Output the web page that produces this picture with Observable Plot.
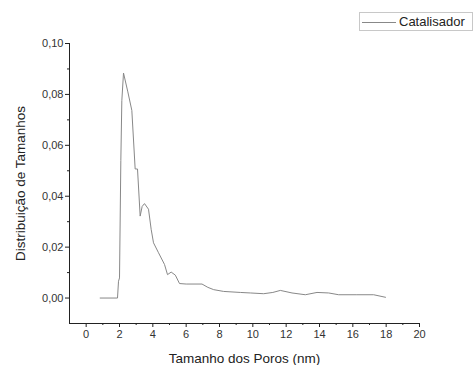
<!DOCTYPE html>
<html>
<head>
<meta charset="utf-8">
<script src="https://cdn.jsdelivr.net/npm/d3@7"></script>
<script src="https://cdn.jsdelivr.net/npm/@observablehq/plot@0.6"></script>
<style>
  body { margin: 0; background: #fff; }
  #wrap { position: relative; width: 475px; height: 365px; font-family: "Liberation Sans", Arial, sans-serif; }
  #legend { position: absolute; left: 359px; top: 12px; width: 114px; height: 19px; border: 1px solid #c8c8c8; box-sizing: border-box; background: #fff; }
  #legend .ln { position: absolute; left: 2px; top: 9px; width: 34px; height: 0; border-top: 1px solid #888; }
  #legend .tx { position: absolute; left: 39px; top: 1px; font-size: 13px; color: #222; line-height: 16px; white-space: nowrap; }
</style>
</head>
<body>
<div id="wrap"><div id="legend"><div class="ln"></div><div class="tx">Catalisador</div></div></div>
<script>
const seriesName = "Catalisador";
const poreSize = [0.84, 1.88, 1.94, 2.0, 2.08, 2.14, 2.24, 2.5, 2.74, 2.94, 3.08, 3.24, 3.36, 3.5, 3.74, 3.9, 4.04, 4.34, 4.7, 4.88, 5.1, 5.35, 5.6, 6.0, 6.95, 7.3, 7.65, 8.25, 9.25, 9.85, 10.65, 11.2, 11.65, 12.35, 13.15, 13.85, 14.55, 15.15, 16.2, 17.25, 17.96];
const distribution = [0.0, 0.0, 0.0066, 0.0079, 0.054, 0.0776, 0.0884, 0.081, 0.0737, 0.0507, 0.0507, 0.0322, 0.036, 0.0371, 0.0349, 0.027, 0.0217, 0.0178, 0.0132, 0.0092, 0.0102, 0.009, 0.0057, 0.0055, 0.0055, 0.0042, 0.0033, 0.0026, 0.0022, 0.002, 0.0017, 0.0022, 0.003, 0.002, 0.0013, 0.0022, 0.002, 0.0013, 0.0013, 0.0013, 0.0003];
const xMajor = [0, 2, 4, 6, 8, 10, 12, 14, 16, 18, 20];
const xMinor = [1, 3, 5, 7, 9, 11, 13, 15, 17, 19];
const yMajor = [0, 0.02, 0.04, 0.06, 0.08, 0.10];
const yMinor = [0.01, 0.03, 0.05, 0.07, 0.09];
const xTitle = "Tamanho dos Poros (nm)";
const yTitle = "Distribuição de Tamanhos";

const data = poreSize.map((x, i) => ({x, y: distribution[i]}));
const fmtY = d => d3.format(".2f")(d).replace(".", ",");

const chart = Plot.plot({
  width: 475,
  height: 365,
  marginLeft: 69,
  marginRight: 56,
  marginTop: 43,
  marginBottom: 42,
  style: {fontFamily: "'Liberation Sans', Arial, sans-serif", fontSize: "11px", color: "#333", background: "#fff"},
  x: {domain: [-1, 20]},
  y: {domain: [-0.01, 0.10]},
  marks: [
    Plot.ruleX([-1], {stroke: "#222", strokeWidth: 1}),
    Plot.ruleY([-0.01], {stroke: "#222", strokeWidth: 1}),
    Plot.axisX(xMajor, {tickSize: 4, tickPadding: 3, stroke: "#222", fill: "#333", label: null, fontSize: 11}),
    Plot.axisX(xMinor, {tickSize: 2, tickFormat: () => "", stroke: "#222", label: null}),
    Plot.axisY(yMajor, {tickSize: 4, tickPadding: 2, tickFormat: fmtY, stroke: "#222", fill: "#333", label: null, fontSize: 11}),
    Plot.axisY(yMinor, {tickSize: 2, tickFormat: () => "", stroke: "#222", label: null}),
    Plot.line(data, {x: "x", y: "y", stroke: "#888", strokeWidth: 1}),
    Plot.text([xTitle], {frameAnchor: "bottom", dy: 39, fontSize: 13.5, fill: "#222"}),
    Plot.text([yTitle], {frameAnchor: "left", dx: -49, dy: 0, rotate: -90, textAnchor: "middle", fontSize: 13.5, fill: "#222"})
  ]
});
document.getElementById("wrap").prepend(chart);
</script>
</body>
</html>
